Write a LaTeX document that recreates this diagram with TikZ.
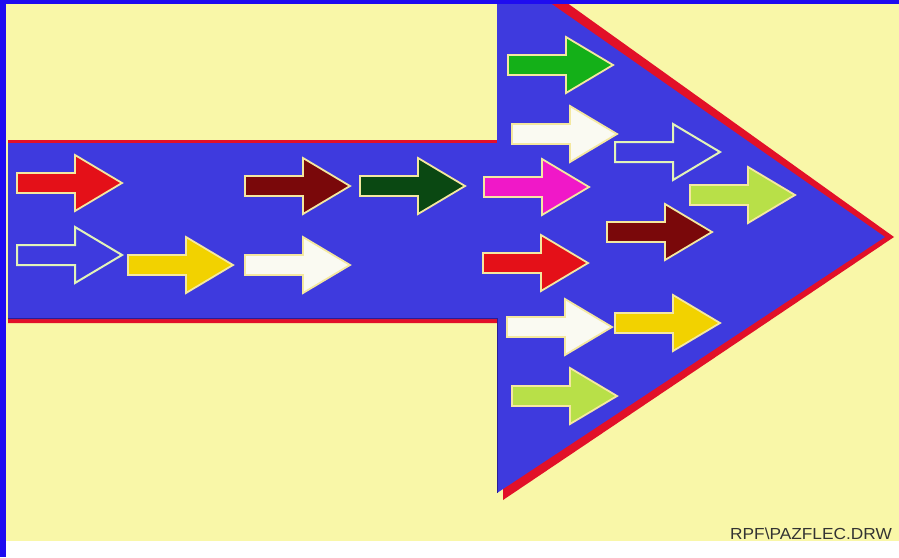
\documentclass[tikz,border=0pt]{standalone}
\usepackage{fontspec}
\newfontfamily\lbfont{Liberation Sans}
\definecolor{bgyellow}{RGB}{249,247,168}
\definecolor{frameblue}{RGB}{30,12,240}
\definecolor{arrowblue}{RGB}{62,58,222}
\definecolor{darkblue}{RGB}{40,30,150}
\definecolor{shadowred}{RGB}{226,16,40}
\definecolor{cream}{RGB}{244,232,160}
\definecolor{cRed}{RGB}{228,16,24}
\definecolor{cMaroon}{RGB}{122,8,10}
\definecolor{cDkGreen}{RGB}{10,72,18}
\definecolor{cMagenta}{RGB}{240,24,200}
\definecolor{cYellow}{RGB}{242,210,0}
\definecolor{cWhite}{RGB}{250,250,242}
\definecolor{cGreen}{RGB}{20,176,24}
\definecolor{cLime}{RGB}{184,224,72}
\tikzset{
  arrowline/.style={draw=cream, line width=1.8pt, line join=miter},
  hollowline/.style={draw=cream!85!green!60, line width=2pt, line join=miter},
  pics/smarrow/.style={code={
    \draw[arrowline, fill=#1] (0,-10) -- (58,-10) -- (58,-28) -- (105,0) -- (58,28) -- (58,10) -- (0,10) -- cycle;}},
  pics/holarrow/.style={code={
    \draw[hollowline, fill=arrowblue] (0,-10) -- (58,-10) -- (58,-28) -- (105,0) -- (58,28) -- (58,10) -- (0,10) -- cycle;}},
}
\begin{document}
\begin{tikzpicture}[x=1pt, y=-1pt]
\useasboundingbox (0,0) rectangle (899,557);
\clip (0,0) rectangle (899,557);
% background
\fill[bgyellow] (0,0) rectangle (899,541);
\fill[white] (0,541) rectangle (899,557);
% red shadow of the big arrow
\fill[shadowred] (8,140) -- (500,140) -- (500,0) -- (563,0) -- (894,237) -- (503,500) -- (503,323) -- (8,323) -- cycle;
% big blue arrow
\fill[arrowblue] (8,143) -- (497,143) -- (497,0) -- (546,0) -- (885,237) -- (497,493) -- (497,319) -- (8,319) -- cycle;
\draw[darkblue, line width=1.2pt] (8,318.5) -- (497.5,318.5) -- (497.5,493);
% small arrows
\pic at (17,183) {smarrow=cRed};
\pic at (245,186) {smarrow=cMaroon};
\pic at (360,186) {smarrow=cDkGreen};
\pic at (484,187) {smarrow=cMagenta};
\pic at (17,255) {holarrow};
\pic at (128,265) {smarrow=cYellow};
\pic at (245,265) {smarrow=cWhite};
\pic at (508,65) {smarrow=cGreen};
\pic at (512,134) {smarrow=cWhite};
\pic at (615,152) {holarrow};
\pic at (690,195) {smarrow=cLime};
\pic at (607,232) {smarrow=cMaroon};
\pic at (483,263) {smarrow=cRed};
\pic at (507,327) {smarrow=cWhite};
\pic at (615,323) {smarrow=cYellow};
\pic at (512,396) {smarrow=cLime};
% frame
\fill[frameblue] (0,0) rectangle (899,4);
\fill[frameblue] (0,0) rectangle (6,557);
% label
\node[anchor=base west, inner sep=0pt, xscale=1.08, text=black!80, font=\lbfont\fontsize{16}{16}\selectfont] (lbl) at (730,539) {RPF\textbackslash PAZFLEC.DRW};
\end{tikzpicture}
\end{document}
